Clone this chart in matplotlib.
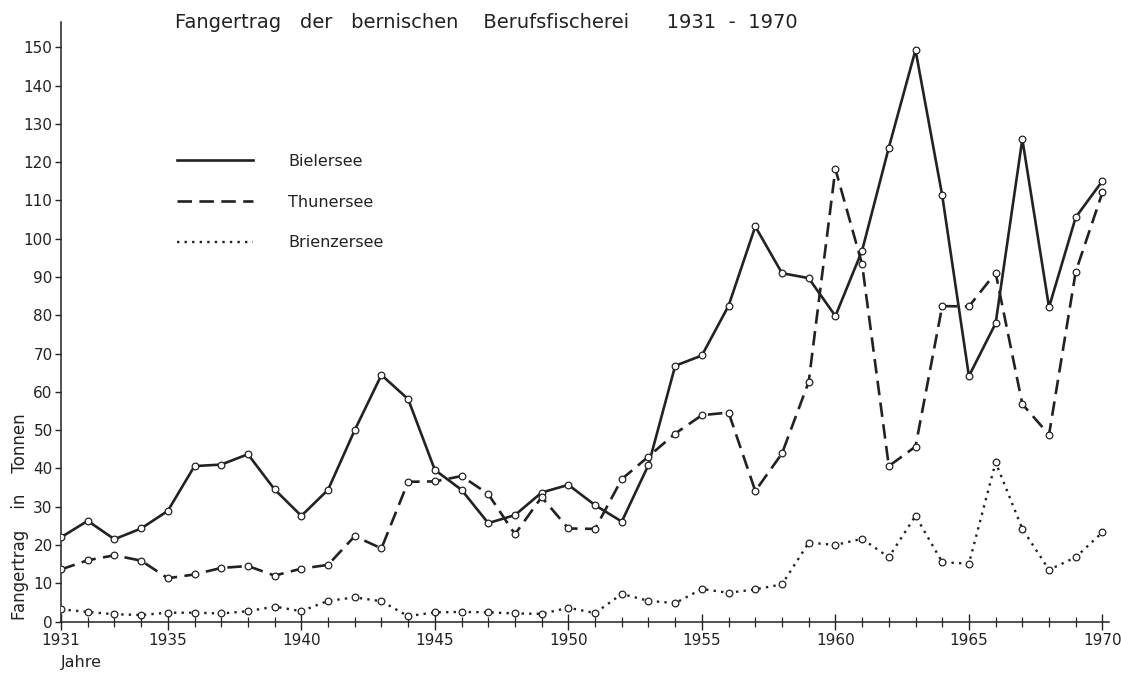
import matplotlib
matplotlib.use("Agg")
import matplotlib.pyplot as plt
from matplotlib.lines import Line2D
from matplotlib.ticker import MultipleLocator, FixedLocator

years = list(range(1931, 1971))

bielersee = [22, 26.3, 21.5, 24.3, 28.9, 40.6, 41, 43.7, 34.5, 27.6,
             34.4, 50, 64.4, 58.1, 39.6, 34.4, 25.7, 27.8, 33.7, 35.7,
             30.4, 26.1, 40.9, 66.8, 69.5, 82.5, 103.2, 91.0, 89.7, 79.8,
             96.9, 123.8, 149.3, 111.3, 64.1, 77.9, 126, 82.1, 105.6, 115.1]

thunersee = [13.6, 16, 17.3, 15.9, 11.3, 12.3, 14, 14.5, 12.0, 13.8,
             14.8, 22.3, 19.1, 36.5, 36.6, 38.0, 33.3, 22.8, 32.5, 24.3,
             24.2, 37.2, 43.1, 49.1, 53.9, 54.6, 34.1, 43.9, 62.6, 118.2,
             93.3, 40.6, 45.7, 82.4, 82.3, 91.1, 56.8, 48.8, 91.4, 112.1]

brienzersee = [3.2, 2.5, 1.9, 1.7, 2.3, 2.3, 2.1, 2.7, 3.9, 2.7,
               5.4, 6.3, 5.3, 1.4, 2.4, 2.5, 2.4, 2.1, 2.0, 3.6,
               2.2, 7.2, 5.4, 4.8, 8.5, 7.5, 8.4, 9.7, 20.6, 20.0,
               21.6, 16.8, 27.6, 15.5, 15.1, 41.6, 24.2, 13.5, 16.8, 23.3]

series_names = ["Bielersee", "Thunersee", "Brienzersee"]
x_tick_labels = [1931, 1935, 1940, 1945, 1950, 1955, 1960, 1965, 1970]
y_ticks = list(range(0, 151, 10))

ink = "#222222"
plt.rcParams['font.family'] = ['DejaVu Sans']

fig = plt.figure(figsize=(11.21, 6.73), dpi=100)
ax = fig.add_axes([0.0544, 0.0765, 0.935, 0.8913])

styles = [
    dict(linestyle="-", linewidth=1.9),
    dict(linestyle=(0, (5.5, 2.8)), linewidth=1.9),
    dict(linestyle=(0, (1, 2.2)), linewidth=1.7),
]
for vals, st in zip([bielersee, thunersee, brienzersee], styles):
    ax.plot(years, vals, color=ink, marker="o", markersize=4.8,
            markerfacecolor="white", markeredgecolor=ink, markeredgewidth=0.9,
            **st, zorder=3)

ax.set_xlim(1931, 1970.25)
ax.set_ylim(0, 156.7)

for s in ["top", "right"]:
    ax.spines[s].set_visible(False)
for s in ["left", "bottom"]:
    ax.spines[s].set_color(ink)
    ax.spines[s].set_linewidth(1.1)

ax.xaxis.set_major_locator(FixedLocator(x_tick_labels))
ax.xaxis.set_minor_locator(MultipleLocator(1))
ax.set_xticklabels([str(v) for v in x_tick_labels])
ax.set_yticks(y_ticks)
ax.set_yticklabels([str(v) for v in y_ticks])

ax.tick_params(axis="x", which="major", direction="inout", length=12, width=1.0,
               colors=ink, labelsize=11, pad=2)
ax.tick_params(axis="x", which="minor", direction="inout", length=7, width=0.9, colors=ink)
ax.tick_params(axis="y", which="major", direction="out", length=4, width=1.0,
               colors=ink, labelsize=11, pad=2)

handles = [Line2D([], [], color=ink, **st) for st in styles]
leg = ax.legend(handles, series_names, loc="upper left",
                bbox_to_anchor=(0.111, 0.780), frameon=False,
                borderaxespad=0, borderpad=0,
                handlelength=4.75, handletextpad=2.2, labelspacing=1.62,
                fontsize=11.5)
for t in leg.get_texts():
    t.set_color(ink)

fig.text(0.156, 0.967,
         "Fangertrag   der   bernischen    Berufsfischerei      1931  -  1970",
         ha="left", va="center", fontsize=14, color=ink)
fig.text(0.018, 0.232, "Fangertrag    in    Tonnen", rotation=90,
         ha="center", va="center", fontsize=12, color=ink)
fig.text(0.054, 0.016, "Jahre", ha="left", va="center", fontsize=11.5, color=ink)

fig.savefig("out.png", dpi=100, facecolor="white")
